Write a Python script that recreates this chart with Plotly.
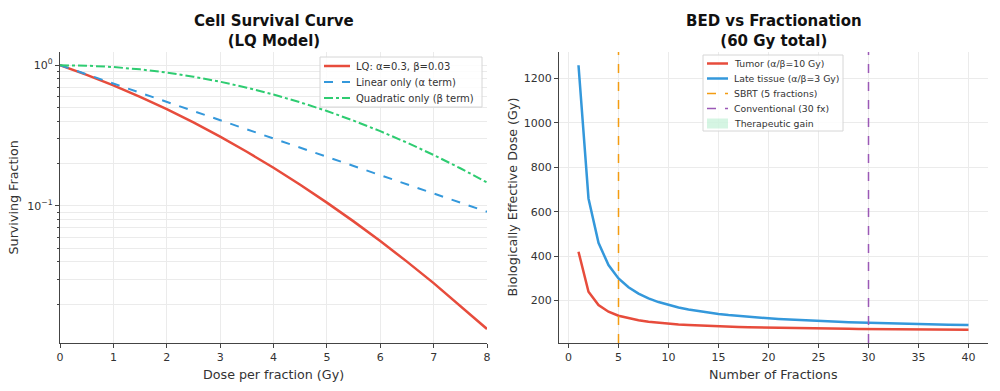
import plotly.graph_objects as go

# ---- Data: cell survival (LQ model) ----
dose = [0, 0.5, 1, 1.5, 2, 2.5, 3, 3.5, 4, 4.5, 5, 5.5, 6, 6.5, 7, 7.5, 8]
surv_lq = [1.0, 0.8543, 0.7189, 0.5960, 0.4868, 0.3916, 0.3104, 0.2423, 0.1864,
           0.1412, 0.1054, 0.0775, 0.0561, 0.0401, 0.0282, 0.0195, 0.0133]
surv_lin = [1.0, 0.8607, 0.7408, 0.6376, 0.5488, 0.4724, 0.4066, 0.3499, 0.3012,
            0.2592, 0.2231, 0.1920, 0.1653, 0.1423, 0.1225, 0.1054, 0.0907]
surv_quad = [1.0, 0.9925, 0.9704, 0.9347, 0.8869, 0.8290, 0.7634, 0.6924, 0.6188,
             0.5447, 0.4724, 0.4035, 0.3396, 0.2815, 0.2299, 0.1850, 0.1466]

# ---- Data: BED vs fractionation ----
fractions = list(range(1, 41))
bed_tumor = [420, 240, 180, 150, 132, 120, 111.43, 105, 100, 96, 92.73, 90, 87.69, 85.71,
             84, 82.5, 81.18, 80, 78.95, 78, 77.14, 76.36, 75.65, 75, 74.4, 73.85, 73.33,
             72.86, 72.41, 72, 71.61, 71.25, 70.91, 70.59, 70.29, 70, 69.73, 69.47, 69.23, 69]
bed_late = [1260, 660, 460, 360, 300, 260, 231.43, 210, 193.33, 180, 169.09, 160, 152.31,
            145.71, 140, 135, 130.59, 126.67, 123.16, 120, 117.14, 114.55, 112.17, 110, 108,
            106.15, 104.44, 102.86, 101.38, 100, 98.71, 97.5, 96.36, 95.29, 94.29, 93.33,
            92.43, 91.58, 90.77, 90]
sbrt_fx = 5
conv_fx = 30

left_names = ["LQ: α=0.3, β=0.03", "Linear only (α term)", "Quadratic only (β term)"]
right_names = ["Tumor (α/β=10 Gy)", "Late tissue (α/β=3 Gy)", "SBRT (5 fractions)",
               "Conventional (30 fx)", "Therapeutic gain"]

RED = "#e74c3c"
BLUE = "#3498db"
GREEN = "#2ecc71"
ORANGE = "#f39c12"
PURPLE = "#9b59b6"
GAIN = "rgba(46,204,113,0.2)"
GRID = "#ebebeb"
AX = "#444444"
FONT = "DejaVu Sans"
W, H = 1000, 391

fig = go.Figure()

# Left panel
fig.add_trace(go.Scatter(x=dose, y=surv_lq, mode="lines", name=left_names[0],
                         line=dict(color=RED, width=2.5), xaxis="x", yaxis="y"))
fig.add_trace(go.Scatter(x=dose, y=surv_lin, mode="lines", name=left_names[1],
                         line=dict(color=BLUE, width=2, dash="dash"), xaxis="x", yaxis="y"))
fig.add_trace(go.Scatter(x=dose, y=surv_quad, mode="lines", name=left_names[2],
                         line=dict(color=GREEN, width=2, dash="dashdot"), xaxis="x", yaxis="y"))

# Right panel
fig.add_trace(go.Scatter(x=fractions, y=bed_tumor, mode="lines", name=right_names[0],
                         line=dict(color=RED, width=2.5), xaxis="x2", yaxis="y2"))
fig.add_trace(go.Scatter(x=fractions, y=bed_late, mode="lines", name=right_names[1],
                         line=dict(color=BLUE, width=2.5), xaxis="x2", yaxis="y2"))

fig.add_shape(type="line", xref="x2", yref="y2 domain", x0=sbrt_fx, x1=sbrt_fx, y0=0, y1=1,
              line=dict(color=ORANGE, width=1.5, dash="dash"))
fig.add_shape(type="line", xref="x2", yref="y2 domain", x0=conv_fx, x1=conv_fx, y0=0, y1=1,
              line=dict(color=PURPLE, width=1.5, dash="dash"))

annotations = []


def px(x):
    return x / W


def py(y):
    return 1 - y / H


def legend_box(x0, y0, x1, y1):
    fig.add_shape(type="rect", xref="paper", yref="paper", x0=px(x0), x1=px(x1),
                  y0=py(y1), y1=py(y0), fillcolor="rgba(255,255,255,0.85)",
                  line=dict(color="#d6d6d6", width=1), layer="above")


def legend_line(x0, x1, y, color, width, dash):
    fig.add_shape(type="line", xref="paper", yref="paper", x0=px(x0), x1=px(x1),
                  y0=py(y), y1=py(y), line=dict(color=color, width=width, dash=dash),
                  layer="above")


def legend_patch(x0, x1, y, color):
    fig.add_shape(type="rect", xref="paper", yref="paper", x0=px(x0), x1=px(x1),
                  y0=py(y + 5), y1=py(y - 5), fillcolor=color, line=dict(width=0),
                  layer="above")


def legend_text(x, y, text, size):
    annotations.append(dict(text=text, x=px(x), y=py(y), xref="paper", yref="paper",
                            xanchor="left", yanchor="middle", showarrow=False,
                            font=dict(family=FONT, size=size, color="#333")))


# Left legend
legend_box(320, 57, 482, 107)
left_styles = [(RED, 2.5, "solid"), (BLUE, 2, "dash"), (GREEN, 2, "dashdot")]
for i, (name, st) in enumerate(zip(left_names, left_styles)):
    yy = 66 + i * 16
    legend_line(324, 350, yy, *st)
    legend_text(354, yy, name, 10)

# Right legend
legend_box(703, 55, 843, 131)
right_styles = [(RED, 2.5, "solid"), (BLUE, 2.5, "solid"), (ORANGE, 1.5, "dash"),
                (PURPLE, 1.5, "dash")]
for i, name in enumerate(right_names):
    yy = 63.5 + i * 15
    if i < 4:
        legend_line(707, 728, yy, *right_styles[i])
    else:
        legend_patch(707, 728, yy, GAIN)
    legend_text(732, yy, name, 9.3)

axcommon = dict(showline=True, linecolor=AX, linewidth=1.3, ticks="outside", tickcolor=AX,
                ticklen=4, showgrid=True, gridcolor=GRID, gridwidth=1, zeroline=False,
                tickfont=dict(family=FONT, size=11, color="#333333"), automargin=False)

TITLE_SIZE = 15
LABEL_SIZE = 12.7
annotations += [
    dict(text="<b>Cell Survival Curve<br>(LQ Model)</b>", x=0.2735, y=py(31), xref="paper",
         yref="paper", xanchor="center", yanchor="middle", showarrow=False,
         font=dict(family=FONT, size=TITLE_SIZE, color="#111")),
    dict(text="<b>BED vs Fractionation<br>(60 Gy total)</b>", x=0.7735, y=py(31),
         xref="paper", yref="paper", xanchor="center", yanchor="middle", showarrow=False,
         font=dict(family=FONT, size=TITLE_SIZE, color="#111")),
    dict(text="Dose per fraction (Gy)", x=0.2735, y=py(374), xref="paper", yref="paper",
         xanchor="center", yanchor="middle", showarrow=False,
         font=dict(family=FONT, size=LABEL_SIZE, color="#333")),
    dict(text="Number of Fractions", x=0.7735, y=py(374), xref="paper", yref="paper",
         xanchor="center", yanchor="middle", showarrow=False,
         font=dict(family=FONT, size=LABEL_SIZE, color="#333")),
    dict(text="Surviving Fraction", x=px(13), y=0.495, xref="paper", yref="paper",
         xanchor="center", yanchor="middle", showarrow=False, textangle=-90,
         font=dict(family=FONT, size=LABEL_SIZE, color="#333")),
    dict(text="Biologically Effective Dose (Gy)", x=px(512), y=0.495, xref="paper",
         yref="paper", xanchor="center", yanchor="middle", showarrow=False, textangle=-90,
         font=dict(family=FONT, size=LABEL_SIZE, color="#333")),
]

ydom = [0.123, 0.867]
fig.update_layout(
    width=W, height=H,
    margin=dict(l=0, r=0, t=0, b=0),
    paper_bgcolor="white", plot_bgcolor="white",
    font=dict(family=FONT, size=10, color="#333333"),
    showlegend=False,
    xaxis=dict(domain=[0.06, 0.487], range=[0, 8], dtick=1, anchor="y", **axcommon),
    yaxis=dict(domain=ydom, type="log", range=[-1.975, 0.094], anchor="x",
               tickvals=[1, 0.1], ticktext=["10<sup>0</sup>", "10<sup>−1</sup>"],
               minor=dict(showgrid=True, gridcolor=GRID, ticks="outside", ticklen=2,
                          tickcolor=AX, dtick="D1"),
               **axcommon),
    xaxis2=dict(domain=[0.559, 0.988], range=[-0.95, 41.95], dtick=5, anchor="y2",
                **axcommon),
    yaxis2=dict(domain=ydom, range=[9.45, 1319.55], dtick=200, tick0=0, anchor="x2",
                **axcommon),
    annotations=annotations,
)

fig.write_html("out.html", config={"displayModeBar": False},
               post_script="document.body.style.margin='0';document.body.style.padding='0';")
